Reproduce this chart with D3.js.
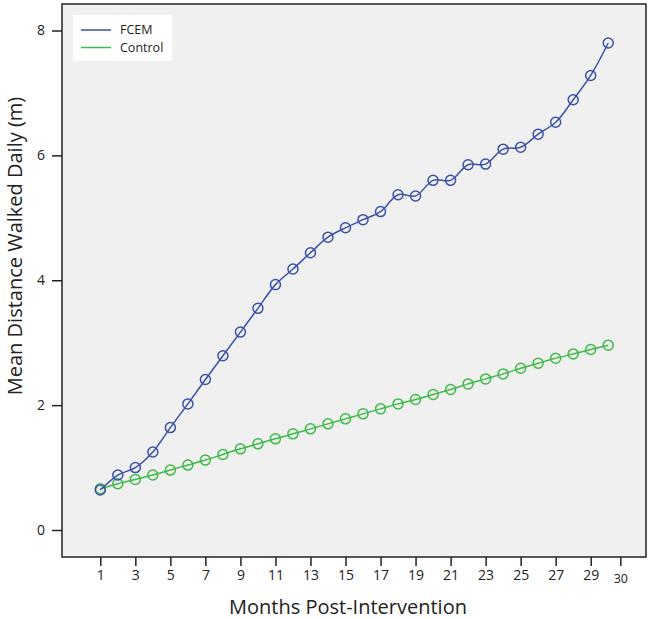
<!DOCTYPE html>
<html>
<head>
<meta charset="utf-8">
<script src="https://cdn.jsdelivr.net/npm/d3@7"></script>
<style>
  body { margin: 0; background: #fff; }
  text { font-family: "Open Sans", "Noto Sans", sans-serif; }
</style>
</head>
<body>
<script>
// months 1..30
const months = d3.range(1, 31);
const fcem = [0.64, 0.88, 1.00, 1.25, 1.64, 2.02, 2.41, 2.79, 3.17, 3.55,
  3.93, 4.18, 4.44, 4.69, 4.84, 4.97, 5.10, 5.37, 5.35, 5.60,
  5.60, 5.85, 5.86, 6.10, 6.13, 6.34, 6.53, 6.89, 7.28, 7.80];
const control = [0.66, 0.74, 0.81, 0.88, 0.96, 1.04, 1.12, 1.21, 1.30, 1.38,
  1.46, 1.54, 1.62, 1.70, 1.78, 1.86, 1.94, 2.02, 2.09, 2.17,
  2.25, 2.34, 2.42, 2.50, 2.59, 2.67, 2.75, 2.82, 2.89, 2.96];
const seriesNames = ["FCEM", "Control"];
const xTicks = [1, 3, 5, 7, 9, 11, 13, 15, 17, 19, 21, 23, 25, 27, 29];
const yTicks = [0, 2, 4, 6, 8];

const width = 650, height = 619;
const plotL = 62, plotR = 646, plotT = 4, plotB = 557;
const colors = { FCEM: "#3b51a8", Control: "#3dba47" };

const x = d3.scaleLinear().domain([1, 29]).range([100.3, 590.7]);
const y = d3.scaleLinear().domain([0, 8]).range([530, 30.5]);

const svg = d3.select("body").append("svg")
  .attr("width", width)
  .attr("height", height);

// plot background + frame
svg.append("rect")
  .attr("x", plotL).attr("y", plotT)
  .attr("width", plotR - plotL).attr("height", plotB - plotT)
  .attr("fill", "#f0f0f0")
  .attr("stroke", "#222").attr("stroke-width", 1.5);

// y axis
const yAxis = svg.append("g")
  .attr("transform", `translate(${plotL},0)`)
  .call(d3.axisLeft(y).tickValues(yTicks).tickSize(10).tickPadding(7).tickFormat(d3.format("d")));
yAxis.select(".domain").remove();
yAxis.selectAll(".tick line").attr("stroke", "#222").attr("stroke-width", 1.5);
yAxis.selectAll(".tick text").style("font-size", "14px").attr("fill", "#222");

// x axis
const xAxis = svg.append("g")
  .attr("transform", `translate(0,${plotB})`)
  .call(d3.axisBottom(x).tickValues(xTicks).tickSize(9).tickPadding(4).tickFormat(d3.format("d")));
xAxis.select(".domain").remove();
xAxis.selectAll(".tick line").attr("stroke", "#222").attr("stroke-width", 1.5);
xAxis.selectAll(".tick text").style("font-size", "14px").attr("fill", "#222");

// odd last tick, labelled 30 but sitting past the last point
const extra = xAxis.append("g").attr("transform", `translate(${x(30.72)},0)`);
extra.append("line").attr("y2", 9).attr("stroke", "#222").attr("stroke-width", 1.5);
extra.append("text").attr("y", 26).attr("text-anchor", "middle")
  .style("font-size", "12.5px").attr("fill", "#222").text("30");

// lines + markers
const line = d3.line()
  .x((d, i) => x(months[i]))
  .y(d => y(d))
  .curve(d3.curveCatmullRom);

[["Control", control], ["FCEM", fcem]].forEach(([name, vals]) => {
  svg.append("path")
    .datum(vals)
    .attr("d", line)
    .attr("fill", "none")
    .attr("stroke", colors[name])
    .attr("stroke-width", 1.5);
  svg.append("g").selectAll("circle")
    .data(vals)
    .enter().append("circle")
    .attr("cx", (d, i) => x(months[i]))
    .attr("cy", d => y(d))
    .attr("r", 5)
    .attr("fill", "none")
    .attr("stroke", colors[name])
    .attr("stroke-width", 1.5);
});

// legend
const legend = svg.append("g");
legend.append("rect")
  .attr("x", 73).attr("y", 15).attr("width", 99).attr("height", 46)
  .attr("fill", "#fff");
seriesNames.forEach((name, i) => {
  const ly = 30 + i * 17.5;
  legend.append("line")
    .attr("x1", 81).attr("x2", 111).attr("y1", ly).attr("y2", ly)
    .attr("stroke", colors[name]).attr("stroke-width", 1.5);
  legend.append("text")
    .attr("x", 120).attr("y", ly).attr("dy", "0.35em")
    .style("font-size", "12.5px").attr("fill", "#222")
    .text(name);
});

// axis titles
svg.append("text")
  .attr("x", 348).attr("y", 614)
  .attr("text-anchor", "middle")
  .style("font-size", "20px").attr("fill", "#222")
  .text("Months Post-Intervention");

svg.append("text")
  .attr("transform", "translate(22,246) rotate(-90)")
  .attr("text-anchor", "middle")
  .style("font-size", "20px").attr("fill", "#222")
  .text("Mean Distance Walked Daily (m)");
</script>
</body>
</html>
